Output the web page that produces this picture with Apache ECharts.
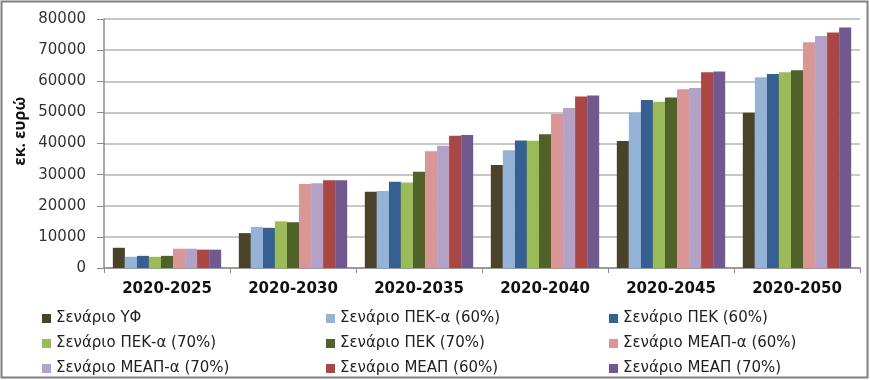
<!DOCTYPE html>
<html>
<head>
<meta charset="utf-8">
<script src="https://cdn.jsdelivr.net/npm/echarts@6/dist/echarts.min.js"></script>
<style>html,body{margin:0;padding:0;background:#fff;}#c{width:870px;height:380px;}</style>
</head>
<body>
<div id="c"></div>
<script>
const categories = ['2020-2025','2020-2030','2020-2035','2020-2040','2020-2045','2020-2050'];
const seriesNames = ['Σενάριο ΥΦ','Σενάριο ΠΕΚ-α (60%)','Σενάριο ΠΕΚ (60%)','Σενάριο ΠΕΚ-α (70%)','Σενάριο ΠΕΚ (70%)','Σενάριο ΜΕΑΠ-α (60%)','Σενάριο ΜΕΑΠ-α (70%)','Σενάριο ΜΕΑΠ (60%)','Σενάριο ΜΕΑΠ (70%)'];
const yf       = [6500, 11200, 24500, 33100, 40800, 49900];
const pekA60   = [3600, 13200, 24700, 37800, 50000, 61300];
const pek60    = [3900, 12900, 27700, 41000, 54000, 62300];
const pekA70   = [3600, 15000, 27500, 40900, 53400, 62900];
const pek70    = [3900, 14700, 30900, 43000, 54800, 63500];
const meapA60  = [6200, 27000, 37500, 49500, 57400, 72500];
const meapA70  = [6200, 27200, 39300, 51400, 57800, 74500];
const meap60   = [5900, 28200, 42500, 55100, 62900, 75700];
const meap70   = [5900, 28200, 42700, 55400, 63100, 77300];
const yTicks = [0,10000,20000,30000,40000,50000,60000,70000,80000];
const yAxisTitle = 'εκ. ευρώ';

const values = [yf, pekA60, pek60, pekA70, pek70, meapA60, meapA70, meap60, meap70];
const colors = ['#4a4229','#95b3d7','#376092','#9bbb59','#4f6228','#d99694','#b3a2c7','#aa4643','#71588f'];

const chart = echarts.init(document.getElementById('c'), null, {renderer:'canvas'});
const legendFont = {fontFamily:'DejaVu Sans', fontSize:15, color:'#222', lineHeight:15};
function legendCol(left, idx){
  return {
    orient:'vertical', left:left, top:311, height:75, padding:0, itemGap:10, itemWidth:9, itemHeight:9,
    icon:'rect', textStyle:legendFont, data: idx.map(i=>seriesNames[i]), selectedMode:false
  };
}
chart.setOption({
  animation:false,
  color: colors,
  grid:{left:104, right:10, top:19, bottom:112},
  legend:[legendCol(42,[0,3,6]), legendCol(326,[1,4,7]), legendCol(609,[2,5,8])],
  graphic:[
    {type:'rect', shape:{x:1.5,y:1.5,width:866,height:376}, style:{fill:null, stroke:'#808080', lineWidth:2}},
    {type:'text', x:20, y:131, rotation:Math.PI/2,
     style:{text:yAxisTitle, fontFamily:'Noto Sans', fontWeight:'bold', fontSize:16, fill:'#111', align:'center', verticalAlign:'middle'}}
  ],
  xAxis:{
    type:'category', data:categories,
    axisLine:{lineStyle:{color:'#8c8c8c', width:1.5}},
    axisTick:{show:true, length:5, lineStyle:{color:'#8c8c8c'}},
    axisLabel:{fontFamily:'DejaVu Sans', fontWeight:'bold', fontSize:15, color:'#111', margin:14}
  },
  yAxis:{
    type:'value', min:yTicks[0], max:yTicks[yTicks.length-1], interval:10000,
    axisLine:{show:true, lineStyle:{color:'#8c8c8c', width:1.5}},
    axisTick:{show:true, length:7, lineStyle:{color:'#8c8c8c'}},
    axisLabel:{fontFamily:'DejaVu Sans', fontSize:15, color:'#333', margin:18, formatter:v=>String(v)},
    splitLine:{lineStyle:{color:'#b5b5b5', width:1.5}}
  },
  series: values.map((v,i)=>({
    name:seriesNames[i], type:'bar', data:v, barGap:'0%', barCategoryGap:'14%',
    itemStyle:{color:colors[i]}
  }))
});
</script>
</body>
</html>
